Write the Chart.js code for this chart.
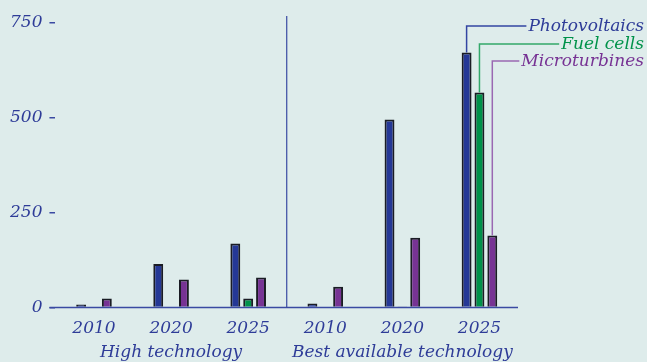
<!DOCTYPE html>
<html>
<head>
<meta charset="utf-8">
<script src="https://cdn.jsdelivr.net/npm/chart.js@4.4.1/dist/chart.umd.min.js"></script>
<style>
  html, body { margin: 0; padding: 0; background: #deeceb; }
  #wrap { width: 647px; height: 362px; }
</style>
</head>
<body>
<div id="wrap"><canvas id="myChart"></canvas></div>
<script>
'use strict';

// data
const years = ['2010', '2020', '2025', '2010', '2020', '2025'];
const groups = ['High technology', 'Best available technology'];
const photovoltaics = [8, 115, 169, 11, 496, 672];
const fuelCells = [2, 2, 24, 2, 3, 567];
const microturbines = [24, 74, 79, 55, 184, 190];
const yTicks = [0, 250, 500, 750];

const textBlue = '#2e3c98';
const fontFamily = "'DejaVu Serif', serif";

// series
const series = [
  { name: 'Photovoltaics', values: photovoltaics, color: '#253896', line: '#3345a2', text: '#2e3c98' },
  { name: 'Fuel cells', values: fuelCells, color: '#00924a', line: '#33a86a', text: '#00924a' },
  { name: 'Microturbines', values: microturbines, color: '#773394', line: '#9a68b2', text: '#773394' }
];

// divider, baseline, group names, leader labels
const extras = {
  id: 'extras',
  afterDatasetsDraw(chart) {
    const { ctx, chartArea, scales } = chart;
    ctx.save();
    // baseline
    ctx.strokeStyle = '#3a4aa2';
    ctx.lineWidth = 1.5;
    ctx.beginPath();
    ctx.moveTo(chartArea.left - 6, scales.y.getPixelForValue(0));
    ctx.lineTo(chartArea.right, scales.y.getPixelForValue(0));
    ctx.stroke();
    // divider between the two groups
    const mid = (scales.x.getPixelForValue(2) + scales.x.getPixelForValue(3)) / 2;
    ctx.lineWidth = 1.2;
    ctx.beginPath();
    ctx.moveTo(mid, chartArea.top - 7);
    ctx.lineTo(mid, chartArea.bottom);
    ctx.stroke();
    ctx.font = 'italic 17px ' + fontFamily;
    ctx.textBaseline = 'middle';
    // group names under the years
    ctx.fillStyle = textBlue;
    ctx.textAlign = 'center';
    groups.forEach((g, i) => {
      const cx = scales.x.getPixelForValue(i * 3 + 1);
      ctx.fillText(g, cx, chartArea.bottom + 45);
    });
    // labels with leader lines
    ctx.textAlign = 'right';
    const rightX = 644;
    const rows = [26, 44, 61];
    series.forEach((s, i) => {
      const bar = chart.getDatasetMeta(i).data[5];
      const w = ctx.measureText(s.name).width;
      ctx.strokeStyle = s.line;
      ctx.lineWidth = 1.5;
      ctx.beginPath();
      ctx.moveTo(rightX - w - 2, rows[i]);
      ctx.lineTo(bar.x, rows[i]);
      ctx.lineTo(bar.x, bar.y);
      ctx.stroke();
      ctx.fillStyle = s.text;
      ctx.fillText(s.name, rightX, rows[i] + 1);
    });
    ctx.restore();
  }
};

new Chart(document.getElementById('myChart'), {
  type: 'bar',
  data: {
    labels: years,
    datasets: series.map(s => ({
      label: s.name,
      data: s.values,
      backgroundColor: s.color,
      borderColor: '#1a1c24',
      borderWidth: 2,
      categoryPercentage: 0.5,
      barPercentage: 0.77
    }))
  },
  options: {
    responsive: true,
    maintainAspectRatio: false,
    animation: false,
    layout: { padding: { left: 3, right: 129, top: 23, bottom: 12 } },
    plugins: { legend: { display: false }, tooltip: { enabled: false } },
    scales: {
      x: {
        border: { display: false },
        grid: { display: false, drawTicks: false },
        ticks: { color: textBlue, padding: 11, font: { family: fontFamily, size: 17, style: 'italic' } }
      },
      y: {
        min: 0,
        max: 750,
        afterBuildTicks: (axis) => { axis.ticks = yTicks.map(v => ({ value: v })); },
        border: { display: false },
        grid: { drawOnChartArea: false, drawTicks: true, tickLength: 6, color: '#3a4aa2', lineWidth: 1.5 },
        ticks: { color: textBlue, padding: 7, font: { family: fontFamily, size: 17, style: 'italic' } }
      }
    }
  },
  plugins: [extras]
});
</script>
</body>
</html>
